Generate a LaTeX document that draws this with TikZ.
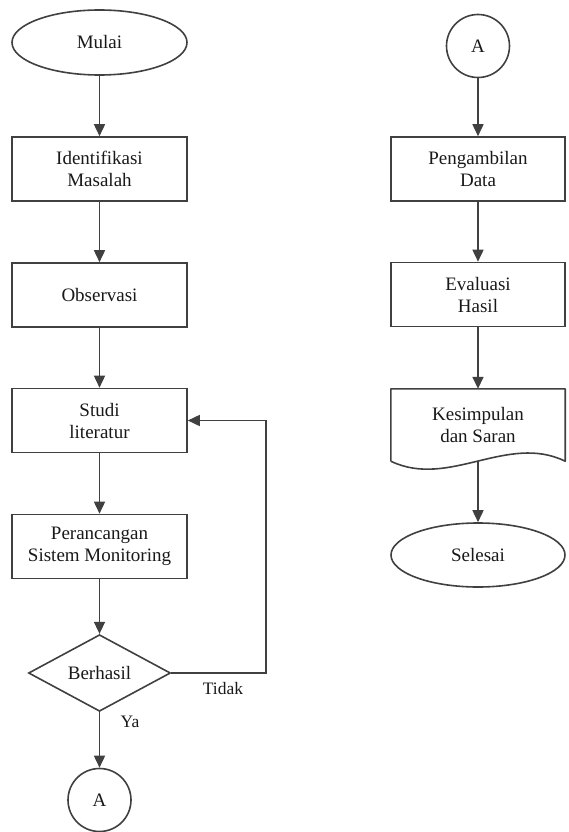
\documentclass[tikz,border=0pt]{standalone}
\usepackage{fontspec}
\setmainfont{Liberation Serif}
\usetikzlibrary{shapes.geometric,arrows.meta}
\begin{document}
\begin{tikzpicture}[x=1pt,y=-1pt,
  every node/.style={font=\fontsize{19}{22}\selectfont, text=black!90, align=center, inner sep=0pt},
  procbox/.style={draw=black!75, line width=1.6pt, rectangle, minimum width=175, minimum height=64},
  term/.style={draw=black!75, line width=1.6pt, ellipse, minimum width=175, minimum height=65},
  conn/.style={draw=black!75, line width=1.6pt, circle, minimum size=63},
  decision/.style={draw=black!75, line width=1.6pt, diamond, minimum width=142, minimum height=62},
  arr/.style={draw=black!75, line width=1.6pt, -{Triangle[length=12pt,width=11pt]}},
  lbl/.style={font=\fontsize{17.5}{20}\selectfont}]
\useasboundingbox (0,0) rectangle (568,832);
% left column
\node[term] (mulai) at (99.5,42.5) {Mulai};
\node[procbox] (ident) at (99.5,169) {Identifikasi\\Masalah};
\node[procbox] (obs) at (99.5,295) {Observasi};
\node[procbox] (studi) at (99.5,420.5) {Studi\\literatur};
\node[procbox] (peranc) at (99.5,546.5) {Perancangan\\Sistem Monitoring};
\node[decision] (dia) at (99.5,673) {Berhasil};
\node[conn] (a1) at (99.5,800) {A};
\coordinate (loopc) at (266,673);
\node[lbl] (tidak) at (223,689) {Tidak};
\node[lbl] (ya) at (130,722) {Ya};
\draw[arr] (mulai) -- (ident);
\draw[arr] (ident) -- (obs);
\draw[arr] (obs) -- (studi);
\draw[arr] (studi) -- (peranc);
\draw[arr] (peranc) -- (dia);
\draw[arr] (dia) -- (a1);
\draw[arr] (dia.east) -- (loopc) |- (studi.east);
% right column
\node[conn] (a2) at (478,46) {A};
\node[procbox, minimum width=174] (peng) at (478,169) {Pengambilan\\Data};
\node[procbox, minimum width=174] (eval) at (478,294.5) {Evaluasi\\Hasil};
\node[minimum width=174, minimum height=72] (kes) at (478,425) {Kesimpulan\\dan Saran};
\draw[draw=black!75, line width=1.6pt, line join=round]
  (kes.south west) -- (kes.north west) -- (kes.north east) -- (kes.south east)
  .. controls ([xshift=-58]kes.south east |- 0,433) and ([xshift=58]kes.south west |- 0,489) .. (kes.south west);
\node[term, minimum width=174, minimum height=64] (selesai) at (478,555) {Selesai};
\draw[arr] (a2) -- (peng);
\draw[arr] (peng) -- (eval);
\draw[arr] (eval) -- (kes);
\draw[arr] (kes.south) -- (selesai);
\end{tikzpicture}
\end{document}
